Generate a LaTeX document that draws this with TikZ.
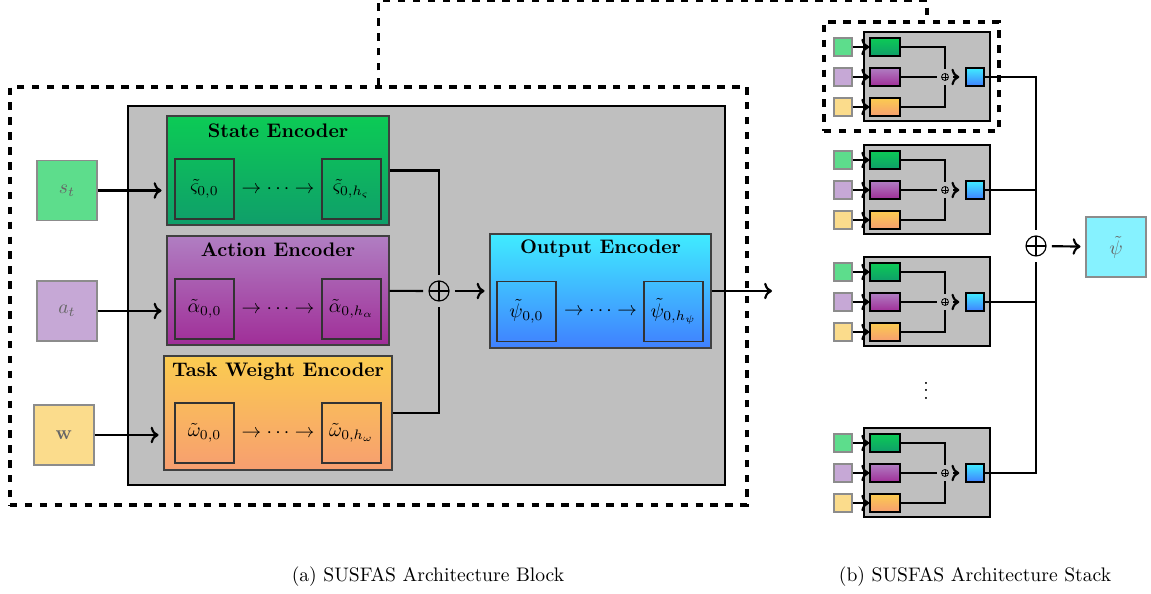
\documentclass[tikz,border=0pt]{standalone}
\usepackage{amsmath, amssymb}
\usepackage{tikz}
\usetikzlibrary{arrows.meta, positioning, calc}

% encoder shading colours
\definecolor{stTop}{RGB}{12,203,85}
\definecolor{stBot}{RGB}{15,158,106}
\definecolor{acTop}{RGB}{176,126,194}
\definecolor{acBot}{RGB}{160,46,152}
\definecolor{twTop}{RGB}{251,204,80}
\definecolor{twBot}{RGB}{247,158,112}
\definecolor{outTop}{RGB}{64,236,255}
\definecolor{outBot}{RGB}{64,128,255}
% input colours
\definecolor{inGreen}{RGB}{93,221,140}
\definecolor{inPurple}{RGB}{198,168,214}
\definecolor{inYellow}{RGB}{251,220,140}
\definecolor{inCyan}{RGB}{134,242,255}

\newcommand{\pxu}{0.51pt}

\tikzset{
    blockbg/.style={draw, line width=1.2pt, fill=gray!50, inner sep=0pt},
    dashframe/.style={draw, line width=1.8pt, dash pattern=on 3.8pt off 3.8pt, inner sep=0pt},
    encoder/.style={draw=black!75, line width=0.6pt, minimum width=222*\pxu, minimum height=109*\pxu, inner sep=0pt},
    cell/.style={draw=black!80, line width=0.6pt, minimum width=59*\pxu, minimum height=60*\pxu, inner sep=0pt},
    chain/.style={inner sep=0pt},
    inbox/.style={draw=black!45, line width=0.6pt, text=black!60, minimum size=60*\pxu, inner sep=0pt},
    sumnode/.style={circle, draw, line width=0.6pt, minimum size=20*\pxu, inner sep=0pt, outer sep=3pt,
        path picture={\draw[line width=0.6pt] (path picture bounding box.north) -- (path picture bounding box.south)
            (path picture bounding box.west) -- (path picture bounding box.east);}},
    wire/.style={line width=1.1pt},
    arr/.style={wire, ->, shorten >=2.5pt},
    % small versions for the stack
    stackbg/.style={draw, line width=0.9pt, fill=gray!50},
    minibox/.style={draw=black!45, line width=0.6pt, minimum size=18*\pxu, inner sep=0pt},
    minienc/.style={draw, line width=0.8pt, minimum width=30*\pxu, minimum height=18*\pxu, inner sep=0pt},
    miniout/.style={draw, line width=0.8pt, minimum size=18*\pxu, inner sep=0pt, top color=outTop, bottom color=outBot},
    minisum/.style={circle, draw, line width=0.4pt, minimum size=7*\pxu, inner sep=0pt, outer sep=2.5pt,
        path picture={\draw[line width=0.4pt] (path picture bounding box.north) -- (path picture bounding box.south)
            (path picture bounding box.west) -- (path picture bounding box.east);}},
    miniarr/.style={wire, ->}
}

\begin{document}
\begin{tikzpicture}[x=\pxu, y=-\pxu]
    \useasboundingbox (0,0) rectangle (1151,594);

    % Block: dashed frame and grey body
    \node[dashframe, minimum width=737*\pxu, minimum height=418*\pxu] (blkFrame) at (378.5,296) {};
    \node[blockbg, minimum width=597*\pxu, minimum height=379*\pxu] (blkBg) at (426.5,295.5) {};

    % Inputs
    \node[inbox, fill=inGreen] (sIn) at (67,190.5) {$s_t$};
    \node[inbox, fill=inPurple] (aIn) at (67,311) {$a_t$};
    \node[inbox, fill=inYellow] (wIn) at (64,435) {$\mathbf{w}$};

    % State encoder
    \node[encoder, top color=stTop, bottom color=stBot] (stEnc) at (278,170.5) {};
    \node[font=\bfseries] (stTitle) at (278,131) {State Encoder};
    \node[cell] (st0) at (204.5,189) {$\tilde{\varsigma}_{0,0}$};
    \node[cell] (stH) at (351.5,189) {$\tilde{\varsigma}_{0,h_\varsigma}$};
    \node[chain] (stDots) at (278,189) {$\rightarrow\cdots\rightarrow$};

    % Action encoder
    \node[encoder, top color=acTop, bottom color=acBot] (acEnc) at (278,290.5) {};
    \node[font=\bfseries] (acTitle) at (278,250) {Action Encoder};
    \node[cell] (ac0) at (204.5,309) {$\tilde{\alpha}_{0,0}$};
    \node[cell] (acH) at (351.5,309) {$\tilde{\alpha}_{0,h_\alpha}$};
    \node[chain] (acDots) at (278,309) {$\rightarrow\cdots\rightarrow$};

    % Task weight encoder
    \node[encoder, minimum width=228*\pxu, minimum height=114*\pxu, top color=twTop, bottom color=twBot] (twEnc) at (278,413) {};
    \node[font=\bfseries] (twTitle) at (278,372) {Task Weight Encoder};
    \node[cell] (tw0) at (204.5,433) {$\tilde{\omega}_{0,0}$};
    \node[cell] (twH) at (351.5,433) {$\tilde{\omega}_{0,h_\omega}$};
    \node[chain] (twDots) at (278,433) {$\rightarrow\cdots\rightarrow$};

    % Output encoder
    \node[encoder, minimum width=221*\pxu, minimum height=114*\pxu, top color=outTop, bottom color=outBot] (outEnc) at (600.5,291) {};
    \node[font=\bfseries] (outTitle) at (600.5,249) {Output Encoder};
    \node[cell] (out0) at (526.5,311.5) {$\tilde{\psi}_{0,0}$};
    \node[cell] (outH) at (673.5,311.5) {$\tilde{\psi}_{0,h_\psi}$};
    \node[chain] (outDots) at (600.5,311.5) {$\rightarrow\cdots\rightarrow$};

    \node[sumnode] (sum) at (439,291) {};
    \coordinate (blkOut) at (772,291);

    % Block connections
    \draw[arr] (sIn.east) -- (sIn.east -| stEnc.west);
    \draw[arr] (aIn.east) -- (aIn.east -| acEnc.west);
    \draw[arr] (wIn.east) -- (wIn.east -| twEnc.west);
    \draw[wire] (stEnc) -| (sum.north);
    \draw[wire] (acEnc) -- (sum);
    \draw[wire] (twEnc) -| (sum.south);
    \draw[arr] (sum) -- (outEnc);
    \draw[wire, ->] (outEnc) -- (blkOut);

    % Stack of blocks
    \foreach \k/\y in {1/77, 2/190, 3/302, 4/473} {
        \draw[stackbg] (864,\y-45) rectangle (990,\y+44);
        \node[minibox, fill=inGreen] (sIn\k) at (843,\y-30) {};
        \node[minibox, fill=inPurple] (aIn\k) at (843,\y) {};
        \node[minibox, fill=inYellow] (wIn\k) at (843,\y+30) {};
        \node[minienc, top color=stTop, bottom color=stBot] (sEnc\k) at (885,\y-30) {};
        \node[minienc, top color=acTop, bottom color=acBot] (aEnc\k) at (885,\y) {};
        \node[minienc, top color=twTop, bottom color=twBot] (wEnc\k) at (885,\y+30) {};
        \node[minisum] (mSum\k) at (945,\y) {};
        \node[miniout] (oEnc\k) at (975,\y) {};
        \draw[miniarr] (sIn\k) -- (sEnc\k);
        \draw[miniarr] (aIn\k) -- (aEnc\k);
        \draw[miniarr] (wIn\k) -- (wEnc\k);
        \draw[wire] (sEnc\k) -| (mSum\k.north);
        \draw[wire] (aEnc\k) -- (mSum\k);
        \draw[wire] (wEnc\k) -| (mSum\k.south);
        \draw[wire, ->, shorten >=3pt] (mSum\k) -- (oEnc\k);
    }
    \node (stkDots) at (926,385) {$\vdots$};

    % Stack output
    \node[sumnode] (bigSum) at (1036,246) {};
    \node[inbox, fill=inCyan] (psi) at (1116,247) {$\tilde{\psi}$};
    \draw[wire] (oEnc1) -| (bigSum.north);
    \draw[wire] (oEnc4) -| (bigSum.south);
    \draw[wire] (oEnc2.east) -- (oEnc2.east -| bigSum);
    \draw[wire] (oEnc3.east) -- (oEnc3.east -| bigSum);
    \draw[arr] (bigSum) -- (psi);

    % Dashed link from the block to the first stack element
    \node[dashframe, minimum width=175*\pxu, minimum height=109*\pxu] (stkFrame) at (911.5,76.5) {};
    \coordinate (zoomEnd) at (927,22);
    \draw[dashframe] (blkFrame.north) -- ++(0,-85) -| (zoomEnd);

    % Captions
    \node (capA) at (428,577) {(a) SUSFAS Architecture Block};
    \node (capB) at (975,577) {(b) SUSFAS Architecture Stack};
\end{tikzpicture}
\end{document}
